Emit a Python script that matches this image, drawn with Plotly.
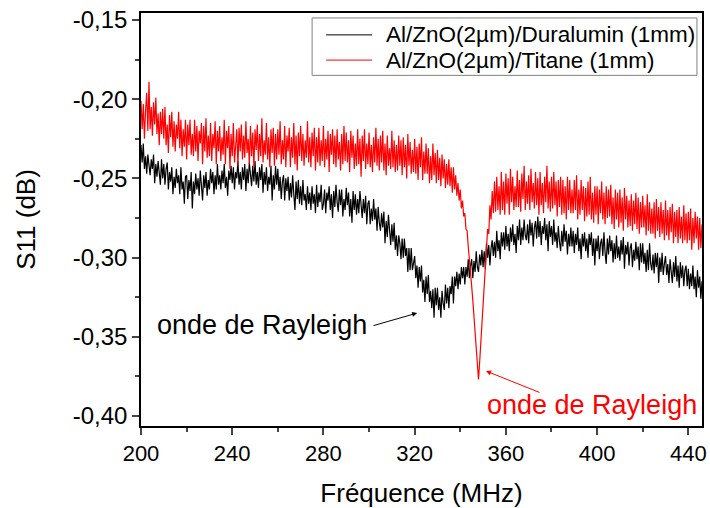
import plotly.graph_objects as go

# frequency sweep (MHz): 200 -> 446 MHz, 0.5 MHz step
freq_start, freq_step, n_points = 200.0, 0.5, 493
freq = [freq_start + freq_step * i for i in range(n_points)]

# S11 (dB) - Al/ZnO(2um)/Duralumin (1mm)
s11_duralumin = [
    -0.229, -0.240, -0.228, -0.244, -0.236, -0.247, -0.235, -0.240, -0.248, -0.238,
    -0.244, -0.235, -0.253, -0.241, -0.249, -0.239, -0.246, -0.254, -0.238, -0.250,
    -0.241, -0.254, -0.244, -0.240, -0.257, -0.246, -0.252, -0.243, -0.260, -0.249,
    -0.256, -0.244, -0.253, -0.248, -0.260, -0.243, -0.257, -0.252, -0.266, -0.249,
    -0.248, -0.263, -0.251, -0.258, -0.246, -0.269, -0.252, -0.260, -0.247, -0.257,
    -0.250, -0.261, -0.245, -0.256, -0.264, -0.248, -0.256, -0.246, -0.261, -0.251,
    -0.257, -0.244, -0.253, -0.246, -0.260, -0.248, -0.257, -0.241, -0.254, -0.248,
    -0.257, -0.245, -0.253, -0.241, -0.256, -0.249, -0.261, -0.245, -0.251, -0.242,
    -0.253, -0.243, -0.257, -0.246, -0.250, -0.239, -0.254, -0.246, -0.257, -0.243,
    -0.251, -0.241, -0.258, -0.244, -0.253, -0.240, -0.250, -0.255, -0.242, -0.252,
    -0.239, -0.254, -0.246, -0.256, -0.243, -0.251, -0.241, -0.259, -0.246, -0.254,
    -0.243, -0.258, -0.249, -0.254, -0.242, -0.264, -0.248, -0.257, -0.242, -0.254,
    -0.244, -0.258, -0.249, -0.263, -0.252, -0.248, -0.264, -0.250, -0.258, -0.249,
    -0.264, -0.253, -0.262, -0.248, -0.260, -0.270, -0.252, -0.263, -0.251, -0.266,
    -0.255, -0.267, -0.251, -0.264, -0.260, -0.270, -0.255, -0.266, -0.259, -0.270,
    -0.255, -0.266, -0.260, -0.272, -0.254, -0.268, -0.259, -0.265, -0.254, -0.270,
    -0.266, -0.257, -0.272, -0.259, -0.264, -0.255, -0.270, -0.260, -0.275, -0.258,
    -0.268, -0.254, -0.265, -0.271, -0.257, -0.267, -0.257, -0.274, -0.263, -0.270,
    -0.256, -0.267, -0.259, -0.274, -0.263, -0.278, -0.258, -0.270, -0.260, -0.273,
    -0.263, -0.272, -0.258, -0.269, -0.275, -0.263, -0.272, -0.261, -0.279, -0.266,
    -0.264, -0.279, -0.269, -0.277, -0.263, -0.276, -0.269, -0.283, -0.268, -0.278,
    -0.283, -0.272, -0.281, -0.271, -0.291, -0.277, -0.287, -0.273, -0.285, -0.292,
    -0.279, -0.290, -0.278, -0.295, -0.286, -0.299, -0.286, -0.291, -0.301, -0.288,
    -0.300, -0.288, -0.299, -0.294, -0.309, -0.294, -0.308, -0.294, -0.308, -0.302,
    -0.299, -0.313, -0.305, -0.319, -0.306, -0.315, -0.305, -0.322, -0.314, -0.328,
    -0.312, -0.323, -0.311, -0.328, -0.321, -0.332, -0.320, -0.338, -0.319, -0.330,
    -0.319, -0.333, -0.325, -0.338, -0.321, -0.329, -0.333, -0.317, -0.329, -0.319,
    -0.332, -0.318, -0.323, -0.312, -0.329, -0.312, -0.318, -0.309, -0.320, -0.310,
    -0.317, -0.306, -0.313, -0.306, -0.317, -0.306, -0.312, -0.301, -0.313, -0.305,
    -0.301, -0.313, -0.302, -0.309, -0.296, -0.306, -0.309, -0.298, -0.305, -0.295,
    -0.306, -0.296, -0.307, -0.291, -0.300, -0.292, -0.305, -0.294, -0.289, -0.299,
    -0.290, -0.300, -0.283, -0.296, -0.289, -0.301, -0.284, -0.293, -0.284, -0.295,
    -0.280, -0.293, -0.285, -0.296, -0.281, -0.290, -0.279, -0.292, -0.285, -0.297,
    -0.280, -0.289, -0.276, -0.292, -0.281, -0.289, -0.276, -0.286, -0.289, -0.279,
    -0.291, -0.276, -0.286, -0.278, -0.293, -0.281, -0.277, -0.288, -0.274, -0.287,
    -0.277, -0.292, -0.280, -0.285, -0.275, -0.289, -0.279, -0.296, -0.277, -0.287,
    -0.280, -0.292, -0.276, -0.290, -0.284, -0.294, -0.280, -0.290, -0.296, -0.283,
    -0.293, -0.279, -0.290, -0.283, -0.298, -0.285, -0.293, -0.281, -0.293, -0.283,
    -0.297, -0.285, -0.292, -0.281, -0.296, -0.288, -0.301, -0.285, -0.293, -0.284,
    -0.296, -0.288, -0.300, -0.285, -0.292, -0.284, -0.299, -0.288, -0.305, -0.288,
    -0.296, -0.286, -0.301, -0.291, -0.288, -0.299, -0.284, -0.297, -0.304, -0.288,
    -0.298, -0.286, -0.296, -0.289, -0.303, -0.291, -0.301, -0.286, -0.300, -0.293,
    -0.302, -0.289, -0.298, -0.287, -0.307, -0.292, -0.298, -0.290, -0.305, -0.294,
    -0.291, -0.306, -0.295, -0.302, -0.290, -0.301, -0.293, -0.308, -0.291, -0.303,
    -0.291, -0.304, -0.297, -0.309, -0.295, -0.308, -0.291, -0.304, -0.308, -0.298,
    -0.310, -0.297, -0.306, -0.297, -0.316, -0.300, -0.309, -0.297, -0.311, -0.304,
    -0.299, -0.311, -0.304, -0.316, -0.301, -0.309, -0.316, -0.303, -0.312, -0.299,
    -0.315, -0.305, -0.319, -0.303, -0.313, -0.305, -0.318, -0.308, -0.305, -0.318,
    -0.307, -0.320, -0.310, -0.318, -0.305, -0.320, -0.312, -0.325, -0.308, -0.319,
    -0.312, -0.326, -0.315,
]

# S11 (dB) - Al/ZnO(2um)/Titane (1mm)
s11_titane = [
    -0.201, -0.219, -0.203, -0.225, -0.207, -0.196, -0.220, -0.189, -0.219, -0.205,
    -0.223, -0.202, -0.216, -0.199, -0.222, -0.209, -0.229, -0.208, -0.222, -0.206,
    -0.225, -0.205, -0.229, -0.216, -0.234, -0.210, -0.224, -0.208, -0.230, -0.214,
    -0.233, -0.216, -0.225, -0.208, -0.231, -0.213, -0.236, -0.219, -0.230, -0.213,
    -0.238, -0.216, -0.229, -0.213, -0.235, -0.222, -0.236, -0.213, -0.233, -0.217,
    -0.239, -0.220, -0.228, -0.215, -0.241, -0.217, -0.233, -0.212, -0.237, -0.223,
    -0.236, -0.215, -0.239, -0.222, -0.231, -0.214, -0.241, -0.220, -0.233, -0.217,
    -0.239, -0.224, -0.235, -0.213, -0.241, -0.220, -0.231, -0.217, -0.244, -0.222,
    -0.236, -0.215, -0.240, -0.226, -0.219, -0.242, -0.218, -0.233, -0.216, -0.238,
    -0.223, -0.237, -0.214, -0.234, -0.225, -0.241, -0.217, -0.236, -0.221, -0.243,
    -0.219, -0.232, -0.216, -0.239, -0.222, -0.236, -0.212, -0.240, -0.226, -0.235,
    -0.215, -0.238, -0.224, -0.243, -0.219, -0.234, -0.218, -0.242, -0.222, -0.238,
    -0.219, -0.235, -0.214, -0.241, -0.226, -0.238, -0.217, -0.243, -0.223, -0.233,
    -0.218, -0.243, -0.224, -0.237, -0.215, -0.241, -0.223, -0.245, -0.221, -0.236,
    -0.217, -0.239, -0.222, -0.242, -0.226, -0.237, -0.214, -0.240, -0.224, -0.243,
    -0.221, -0.236, -0.218, -0.245, -0.224, -0.240, -0.218, -0.242, -0.226, -0.239,
    -0.217, -0.243, -0.225, -0.238, -0.220, -0.246, -0.222, -0.235, -0.219, -0.241,
    -0.223, -0.243, -0.219, -0.238, -0.227, -0.245, -0.222, -0.241, -0.217, -0.239,
    -0.221, -0.240, -0.226, -0.246, -0.220, -0.237, -0.223, -0.244, -0.228, -0.242,
    -0.219, -0.241, -0.225, -0.249, -0.223, -0.239, -0.219, -0.244, -0.228, -0.241,
    -0.221, -0.243, -0.229, -0.246, -0.224, -0.240, -0.218, -0.242, -0.225, -0.245,
    -0.223, -0.240, -0.220, -0.245, -0.228, -0.248, -0.223, -0.242, -0.231, -0.244,
    -0.220, -0.243, -0.226, -0.246, -0.229, -0.245, -0.223, -0.242, -0.226, -0.248,
    -0.224, -0.243, -0.229, -0.250, -0.222, -0.242, -0.227, -0.247, -0.232, -0.246,
    -0.225, -0.247, -0.230, -0.251, -0.228, -0.243, -0.224, -0.251, -0.233, -0.247,
    -0.228, -0.247, -0.231, -0.253, -0.236, -0.251, -0.228, -0.248, -0.234, -0.253,
    -0.232, -0.251, -0.237, -0.255, -0.235, -0.250, -0.238, -0.256, -0.241, -0.254,
    -0.238, -0.255, -0.243, -0.259, -0.243, -0.257, -0.248, -0.261, -0.253, -0.264,
    -0.257, -0.269, -0.264, -0.274, -0.272, -0.282, -0.283, -0.293, -0.300, -0.309,
    -0.318, -0.327, -0.337, -0.346, -0.356, -0.366, -0.377, -0.366, -0.355, -0.343,
    -0.332, -0.319, -0.304, -0.299, -0.282, -0.285, -0.267, -0.276, -0.258, -0.272,
    -0.252, -0.271, -0.249, -0.270, -0.255, -0.273, -0.246, -0.270, -0.252, -0.273,
    -0.247, -0.266, -0.250, -0.273, -0.244, -0.265, -0.249, -0.270, -0.255, -0.268,
    -0.245, -0.268, -0.251, -0.271, -0.247, -0.263, -0.242, -0.270, -0.252, -0.266,
    -0.248, -0.270, -0.244, -0.265, -0.253, -0.269, -0.246, -0.267, -0.250, -0.273,
    -0.246, -0.267, -0.253, -0.272, -0.249, -0.265, -0.242, -0.269, -0.252, -0.271,
    -0.249, -0.269, -0.246, -0.267, -0.252, -0.274, -0.251, -0.268, -0.249, -0.273,
    -0.251, -0.272, -0.255, -0.276, -0.249, -0.270, -0.251, -0.272, -0.257, -0.272,
    -0.251, -0.270, -0.248, -0.276, -0.257, -0.273, -0.251, -0.270, -0.255, -0.277,
    -0.256, -0.274, -0.252, -0.273, -0.249, -0.276, -0.259, -0.278, -0.255, -0.273,
    -0.255, -0.279, -0.257, -0.272, -0.252, -0.276, -0.259, -0.279, -0.255, -0.275,
    -0.257, -0.274, -0.254, -0.279, -0.262, -0.282, -0.257, -0.276, -0.259, -0.281,
    -0.257, -0.278, -0.262, -0.283, -0.256, -0.276, -0.261, -0.281, -0.264, -0.280,
    -0.260, -0.283, -0.264, -0.279, -0.259, -0.282, -0.262, -0.285, -0.265, -0.281,
    -0.261, -0.281, -0.267, -0.286, -0.260, -0.283, -0.265, -0.285, -0.269, -0.285,
    -0.265, -0.288, -0.263, -0.283, -0.268, -0.287, -0.265, -0.285, -0.270, -0.289,
    -0.264, -0.286, -0.270, -0.289, -0.268, -0.284, -0.266, -0.291, -0.271, -0.287,
    -0.270, -0.291, -0.268, -0.288, -0.274, -0.291, -0.267, -0.289, -0.272, -0.291,
    -0.271, -0.289, -0.269, -0.295, -0.275, -0.291, -0.271, -0.288, -0.274, -0.295,
    -0.275, -0.294, -0.279,
]

legend_names = ['Al/ZnO(2µm)/Duralumin (1mm)', 'Al/ZnO(2µm)/Titane (1mm)']
line_colors = ['#000000', '#ff0000']
x_ticks = [200, 240, 280, 320, 360, 400, 440]
y_ticks = [-0.40, -0.35, -0.30, -0.25, -0.20, -0.15]
y_tick_text = ['-0,40', '-0,35', '-0,30', '-0,25', '-0,20', '-0,15']

font_family = 'Liberation Sans, Arial, sans-serif'

fig = go.Figure()
for name, ys, color in zip(legend_names, [s11_duralumin, s11_titane], line_colors):
    fig.add_trace(go.Scatter(x=freq, y=ys, mode='lines', name=name,
                             line=dict(color=color, width=1.2)))

# legend box drawn by hand (tighter rows than plotly's own legend)
fig.add_shape(type='rect', xref='paper', yref='paper', x0=0.305, x1=0.991, y0=0.849, y1=0.988,
              line=dict(color='#808080', width=1), fillcolor='white', layer='above')
legend_rows = [0.947, 0.886]
for name, color, ypos in zip(legend_names, line_colors, legend_rows):
    fig.add_shape(type='line', xref='paper', yref='paper', x0=0.330, x1=0.412, y0=ypos, y1=ypos,
                  line=dict(color=color, width=1), layer='above')
    fig.add_annotation(xref='paper', yref='paper', x=0.433, y=ypos, text=name, showarrow=False,
                       xanchor='left', yanchor='middle', font=dict(size=22.5, color='black'))

# arrows pointing at the Rayleigh dips
fig.add_annotation(x=321.1, y=-0.335, ax=301.3, ay=-0.3432, axref='x', ayref='y',
                   text='', showarrow=True, arrowhead=2, arrowsize=1, arrowwidth=1,
                   arrowcolor='black')
fig.add_annotation(x=351.3, y=-0.3716, ax=375.4, ay=-0.3855, axref='x', ayref='y',
                   text='', showarrow=True, arrowhead=2, arrowsize=1, arrowwidth=1,
                   arrowcolor='#ff0000')
fig.add_annotation(x=252.9, y=-0.3426, text='onde de Rayleigh', showarrow=False,
                   xanchor='center', yanchor='middle', font=dict(size=27, color='black'))
fig.add_annotation(x=397.8, y=-0.393, text='onde de Rayleigh', showarrow=False,
                   xanchor='center', yanchor='middle', font=dict(size=27, color='#ff0000'))

fig.update_layout(
    width=710, height=508,
    margin=dict(l=141, r=8, t=13, b=82),
    paper_bgcolor='white', plot_bgcolor='white',
    separators=',.',
    font=dict(family=font_family, size=22, color='black'),
    showlegend=False,
)
fig.update_xaxes(
    range=[200, 446], tickvals=x_ticks, ticks='outside', ticklen=7, tickwidth=1.5,
    showline=True, mirror=True, linecolor='black', linewidth=1.5, showgrid=False,
    zeroline=False, tickfont=dict(size=22), automargin=False,
    minor=dict(dtick=20, ticks='outside', ticklen=4, tickwidth=1.5, showgrid=False),
    title=dict(text='Fréquence (MHz)', font=dict(size=26), standoff=20),
)
fig.update_yaxes(
    range=[-0.4063, -0.1456], tickvals=y_ticks, ticktext=y_tick_text, ticks='outside',
    ticklen=7, tickwidth=1.5, showline=True, mirror=True, linecolor='black',
    linewidth=1.5, showgrid=False, zeroline=False, tickfont=dict(size=24), automargin=False,
    minor=dict(dtick=0.025, tick0=-0.4, ticks='outside', ticklen=4, tickwidth=1.5,
               showgrid=False),
    title=dict(text='S11 (dB)', font=dict(size=26), standoff=30),
)

# drop the page's default body margin so the figure sits at the window origin
fig.write_html("out.html", config={'displayModeBar': False},
               post_script="document.body.style.margin = '0';")
